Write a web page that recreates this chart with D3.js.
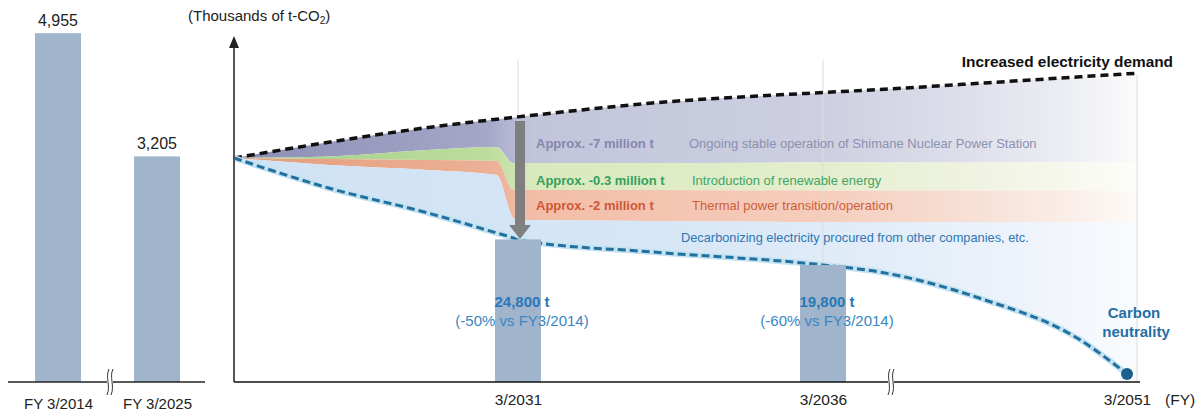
<!DOCTYPE html>
<html>
<head>
<meta charset="utf-8">
<script src="https://cdn.jsdelivr.net/npm/d3@7"></script>
<style>
  body { margin: 0; background: #fff; }
  svg { display: block; font-family: "Liberation Sans", Arial, sans-serif; }
</style>
</head>
<body>
<svg id="chart" width="1203" height="412"></svg>
<script>
// left panel: actual results
const leftCats = ["FY 3/2014", "FY 3/2025"];
const leftValues = [4955, 3205];

// right panel: roadmap (thousand t-CO2)
const axisYears = [2031, 2036, 2051];
const bandYears = [2025, 2027, 2029.1, 2030.55, 2030.9, 2031, 2033.2, 2036, 2038.8, 2043.7, 2048.7, 2051, 2051.5];
const demand        = [3896, 4170, 4426, 4570, 4602, 4611, 4852, 5035, 5087, 5195, 5308, 5360, 5370];
const nuclearBottom = [3896, 3922, 4035, 4087, 3809, 3809, 3809, 3817, 3817, 3817, 3817, 3817, 3817];
const renewBottom   = [3896, 3878, 3861, 3843, 3339, 3339, 3339, 3330, 3330, 3330, 3330, 3330, 3330];
const thermalBottom = [3896, 3774, 3687, 3600, 2852, 2817, 2800, 2783, 2783, 2783, 2783, 2783, 2783];
const target        = [3896, 3374, 2939, 2591, 2504, 2470, 2261, 2035, 1913, 1461, 730, 139, 0];

const barYears = [2031, 2036];
const barValues = [2480, 2035];
const barLabels = ["24,800 t", "19,800 t"];
const barNotes = ["(-50% vs FY3/2014)", "(-60% vs FY3/2014)"];
const gridYears = [2031, 2036, 2051.5];

const svg = d3.select("#chart");
const base = 382;

/**************
*** SCALES ***
**************/
const xL = d3.scalePoint().domain(leftCats).range([58, 157]);
const yL = d3.scaleLinear().domain([0, 5000]).range([base, 30]);

const xR = d3.scaleLinear().domain([2025, 2031, 2036, 2051]).range([234, 518, 823, 1127]);
const yR = d3.scaleLinear().domain([0, 6000]).range([base, 37]);

/******************
*** LEFT PANEL ***
******************/
const barCol = "#a0b5cc";
const left = svg.append("g");

left.selectAll("rect").data(leftValues).enter().append("rect")
  .attr("x", (d, i) => xL(leftCats[i]) - 23)
  .attr("width", 46)
  .attr("y", d => yL(d))
  .attr("height", d => base - yL(d))
  .attr("fill", barCol);

left.selectAll("text.val").data(leftValues).enter().append("text")
  .attr("class", "val")
  .attr("x", (d, i) => xL(leftCats[i]))
  .attr("y", d => yL(d) - 7)
  .attr("text-anchor", "middle")
  .attr("font-size", 16)
  .attr("fill", "#222")
  .text(d => d3.format(",")(d));

left.append("line")
  .attr("x1", 8).attr("x2", 205).attr("y1", base).attr("y2", base)
  .attr("stroke", "#222").attr("stroke-width", 1.3);

const axL = left.append("g")
  .attr("transform", "translate(0," + base + ")")
  .call(d3.axisBottom(xL).tickSize(0).tickPadding(16));
axL.select(".domain").remove();
axL.selectAll("text").attr("font-size", 15).attr("fill", "#222")
  .attr("font-family", "Liberation Sans, Arial, sans-serif");

/*******************
*** RIGHT PANEL ***
*******************/
const right = svg.append("g");
const defs = svg.append("defs");

function grad(id, stops) {
  const g = defs.append("linearGradient").attr("id", id)
    .attr("gradientUnits", "userSpaceOnUse")
    .attr("x1", xR(2025)).attr("x2", xR(2051.5)).attr("y1", 0).attr("y2", 0);
  stops.forEach(s => g.append("stop").attr("offset", s[0]).attr("stop-color", s[1]));
}
grad("gNuc", [[0, "#8c8eb4"], [0.28, "#a5a7c8"], [0.33, "#c2c4da"], [0.65, "#cdcfe1"], [0.82, "#dfe0eb"], [0.93, "#eeeff4"], [1, "#fbfbfc"]]);
grad("gRen", [[0, "#a3d08a"], [0.28, "#bcdc9c"], [0.33, "#d9e9be"], [0.65, "#e4eecd"], [0.82, "#eff3e0"], [0.93, "#f7f8ef"], [1, "#fdfdfa"]]);
grad("gThe", [[0, "#e39d7d"], [0.28, "#ebb095"], [0.33, "#f2bda7"], [0.65, "#f5cdbc"], [0.82, "#f7e0d5"], [0.93, "#faefe9"], [1, "#fdfaf8"]]);
grad("gBlu", [[0, "#cfe2f4"], [0.45, "#d6e6f6"], [0.7, "#e1ecf8"], [0.85, "#ecf2fa"], [1, "#f9fbfd"]]);

function band(top, bottom, fill) {
  const area = d3.area()
    .x((d, i) => xR(bandYears[i]))
    .y0((d, i) => yR(bottom[i]))
    .y1((d, i) => yR(top[i]))
    .curve(d3.curveMonotoneX);
  right.append("path").datum(bandYears).attr("d", area).attr("fill", fill);
}
band(demand, nuclearBottom, "url(#gNuc)");
band(nuclearBottom, renewBottom, "url(#gRen)");
band(renewBottom, thermalBottom, "url(#gThe)");
band(thermalBottom, target, "url(#gBlu)");

// faint vertical guides
right.selectAll("line.grid").data(gridYears).enter().append("line")
  .attr("class", "grid")
  .attr("x1", d => xR(d)).attr("x2", d => xR(d))
  .attr("y1", (d, i) => i < 2 ? 60 : 75).attr("y2", base)
  .attr("stroke", "#dcdcdc").attr("stroke-width", 1);

// demand line
const lineDemand = d3.line()
  .x((d, i) => xR(bandYears[i]))
  .y(d => yR(d))
  .curve(d3.curveMonotoneX);
right.append("path").datum(demand).attr("d", lineDemand)
  .attr("fill", "none").attr("stroke", "#111").attr("stroke-width", 3.5)
  .attr("stroke-dasharray", "8,5");

// target line (to carbon neutrality)
const tgt = target.slice(0, bandYears.indexOf(2051) + 1);
right.append("path").datum(tgt).attr("d", lineDemand)
  .attr("fill", "none").attr("stroke", "#c4e2f2").attr("stroke-width", 6);
right.append("path").datum(tgt).attr("d", lineDemand)
  .attr("fill", "none").attr("stroke", "#21709e").attr("stroke-width", 3)
  .attr("stroke-dasharray", "8,4");

// bars
right.selectAll("rect.bar").data(barValues).enter().append("rect")
  .attr("class", "bar")
  .attr("x", (d, i) => xR(barYears[i]) - 23)
  .attr("width", 46)
  .attr("y", d => yR(d))
  .attr("height", d => base - yR(d))
  .attr("fill", barCol);

// gray arrow
const ax = xR(2031) + 2;
right.append("rect").attr("x", ax - 5).attr("width", 10)
  .attr("y", 121).attr("height", 106).attr("fill", "#7f7f7f");
right.append("path")
  .attr("d", "M" + (ax - 11) + ",225 L" + (ax + 11) + ",225 L" + ax + ",239 Z")
  .attr("fill", "#7f7f7f");

// neutrality dot
right.append("circle")
  .attr("cx", xR(2051)).attr("cy", yR(139)).attr("r", 6)
  .attr("fill", "#1b5f8c");

// axes
right.append("line")
  .attr("x1", xR(2025)).attr("x2", xR(2025)).attr("y1", base).attr("y2", 46)
  .attr("stroke", "#555").attr("stroke-width", 2);
right.append("path")
  .attr("d", "M" + (xR(2025) - 5) + ",48 L" + (xR(2025) + 5) + ",48 L" + xR(2025) + ",36 Z")
  .attr("fill", "#222");
right.append("line")
  .attr("x1", xR(2025)).attr("x2", 1140).attr("y1", base).attr("y2", base)
  .attr("stroke", "#111").attr("stroke-width", 1.5);

const axR = right.append("g")
  .attr("transform", "translate(0," + base + ")")
  .call(d3.axisBottom(xR).tickValues(axisYears).tickFormat(d => "3/" + d).tickSize(0).tickPadding(12));
axR.select(".domain").remove();
axR.selectAll("text").attr("font-size", 15.5).attr("fill", "#222")
  .attr("font-family", "Liberation Sans, Arial, sans-serif");

right.append("text").attr("x", 1165).attr("y", 405).attr("font-size", 15.5)
  .attr("fill", "#222").text("(FY)");

// axis breaks
function brk(x) {
  const g = svg.append("g").attr("transform", "translate(" + x + "," + base + ")");
  g.append("rect").attr("x", -3).attr("y", -4).attr("width", 6).attr("height", 8).attr("fill", "#fff");
  [-2, 2].forEach(o => {
    g.append("path")
      .attr("d", "M" + (o + 1) + ",-13 C" + (o - 3) + ",-5 " + (o + 3) + ",4 " + (o - 1) + ",13")
      .attr("fill", "none").attr("stroke", "#333").attr("stroke-width", 1);
  });
}
brk(110);
brk(891);

/*******************
*** ANNOTATIONS ***
*******************/
const ann = svg.append("g");

const unit = ann.append("text").attr("x", 188).attr("y", 21).attr("font-size", 15).attr("fill", "#222");
unit.append("tspan").text("(Thousands of t-CO");
unit.append("tspan").attr("font-size", 10).attr("dy", 3).text("2");
unit.append("tspan").attr("dy", -3).text(")");

ann.append("text").attr("x", 1173).attr("y", 67).attr("text-anchor", "end")
  .attr("font-size", 15.4).attr("font-weight", "bold").attr("fill", "#111")
  .text("Increased electricity demand");

const rows = [
  {lab: "Approx. -7 million t", desc: "Ongoing stable operation of Shimane Nuclear Power Station", y: 148, c1: "#8587ad", c2: "#8b91ae", dx: 689},
  {lab: "Approx. -0.3 million t", desc: "Introduction of renewable energy", y: 185, c1: "#35a05c", c2: "#42a466", dx: 692},
  {lab: "Approx. -2 million t", desc: "Thermal power transition/operation", y: 210, c1: "#cf5636", c2: "#cf5d3d", dx: 692}
];
rows.forEach(r => {
  ann.append("text").attr("x", 536).attr("y", r.y).attr("font-size", 13)
    .attr("font-weight", "bold").attr("fill", r.c1).text(r.lab);
  ann.append("text").attr("x", r.dx).attr("y", r.y).attr("font-size", 13)
    .attr("fill", r.c2).text(r.desc);
});
ann.append("text").attr("x", 681).attr("y", 242).attr("font-size", 12.8)
  .attr("fill", "#2f76b2").text("Decarbonizing electricity procured from other companies, etc.");

barYears.forEach((yr, i) => {
  ann.append("text").attr("x", xR(yr) + 4).attr("y", 307).attr("text-anchor", "middle")
    .attr("font-size", 15).attr("font-weight", "bold").attr("fill", "#2a78b8").text(barLabels[i]);
  ann.append("text").attr("x", xR(yr) + 4).attr("y", 326).attr("text-anchor", "middle")
    .attr("font-size", 15).attr("fill", "#3a86c4").text(barNotes[i]);
});

ann.append("text").attr("x", 1134).attr("y", 318).attr("text-anchor", "middle")
  .attr("font-size", 15).attr("font-weight", "bold").attr("fill", "#1f6fa6").text("Carbon");
ann.append("text").attr("x", 1136).attr("y", 337).attr("text-anchor", "middle")
  .attr("font-size", 15).attr("font-weight", "bold").attr("fill", "#1f6fa6").text("neutrality");
</script>
</body>
</html>
